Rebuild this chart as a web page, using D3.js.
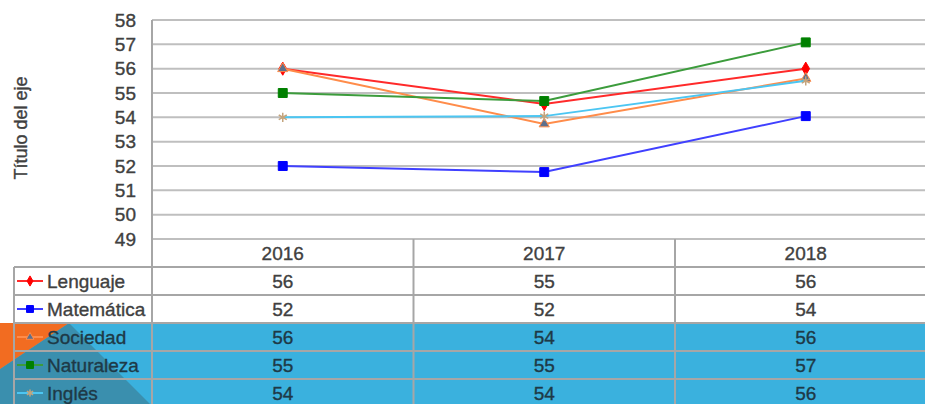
<!DOCTYPE html>
<html>
<head>
<meta charset="utf-8">
<script src="https://cdn.jsdelivr.net/npm/d3@7"></script>
<style>
  html, body { margin: 0; padding: 0; background: #fff; }
  svg { display: block; }
  text { font-family: "Liberation Sans", Arial, sans-serif; stroke-width: 0.35px; paint-order: stroke; }
</style>
</head>
<body>
<svg id="chart" width="925" height="404"></svg>
<script>
// ---- data ----
const years = ["2016", "2017", "2018"];
const seriesNames = ["Lenguaje", "Matemática", "Sociedad", "Naturaleza", "Inglés"];
const lenguaje   = [56.0, 54.55, 56.0];
const matematica = [52.0, 51.75, 54.05];
const sociedad   = [56.0, 53.73, 55.6];
const naturaleza = [55.0, 54.67, 57.08];
const ingles     = [54.0, 54.05, 55.5];
const yTicks = [49, 50, 51, 52, 53, 54, 55, 56, 57, 58];
const axisTitle = "Título del eje";

const seriesValues = [lenguaje, matematica, sociedad, naturaleza, ingles];

// ---- styles ----
const styles = [
  { line: "#ff2a2a", fill: "#ff0000", stroke: "#ff0000", sym: d3.symbolDiamond, size: 50 },
  { line: "#4040ff", fill: "#0000ff", stroke: "#0000ff", sym: d3.symbolSquare, size: 80 },
  { line: "#ff8c4a", fill: "#5d6f8c", stroke: "#ff8c4a", sym: d3.symbolTriangle, size: 45 },
  { line: "#3c9c3c", fill: "#008000", stroke: "#008000", sym: d3.symbolSquare, size: 80 },
  { line: "#4cc6f2", fill: "none", stroke: "#c4a47c", sym: (d3.symbolAsterisk || d3.symbolTimes), size: 60 }
];

const svg = d3.select("#chart");
const W = 925, H = 404;
const plotLeft = 152, plotTop = 20, plotBottom = 239;
const bandW = 261.5;
const rowH = 28;
const tableLeft = 14;

const x = d3.scaleBand().domain(years).range([plotLeft, plotLeft + bandW * years.length]);
const y = d3.scaleLinear().domain([49, 58]).range([plotBottom, plotTop]);

// ---- decorative background (slide) ----
const blueTop = plotBottom + rowH * 3;
svg.append("rect").attr("x", 0).attr("y", blueTop).attr("width", W).attr("height", H - blueTop).attr("fill", "#3ab1de");
svg.append("polygon").attr("points", `0,${blueTop + 46} 69,${blueTop} 150,${H} 0,${H}`).attr("fill", "#3a8fae");
svg.append("polygon").attr("points", `0,${blueTop} 69,${blueTop} 0,${blueTop + 46}`).attr("fill", "#f26c21");

// ---- gridlines ----
const gridColor = "#bfbfbf";
svg.append("g").selectAll("line").data(yTicks).join("line")
  .attr("x1", plotLeft).attr("x2", W)
  .attr("y1", d => y(d)).attr("y2", d => y(d))
  .attr("stroke", gridColor).attr("stroke-width", 2);

// ---- y axis ----
const yAxis = d3.axisLeft(y).tickValues(yTicks).tickFormat(d3.format("d")).tickSize(0).tickPadding(16);
const gy = svg.append("g").attr("transform", `translate(${plotLeft},0)`).call(yAxis);
gy.select(".domain").remove();
gy.selectAll("text").attr("font-size", 19).attr("fill", "#404040").attr("stroke", "#404040")
  .attr("font-family", "Liberation Sans, Arial, sans-serif");

// axis title
svg.append("text")
  .attr("transform", `translate(27,128) rotate(-90)`)
  .attr("text-anchor", "middle")
  .attr("font-size", 18).attr("fill", "#404040").attr("stroke", "#404040")
  .text(axisTitle);

// ---- data table ----
const tableColor = "#a6a6a6";
const tg = svg.append("g");
// header text
tg.selectAll("text.hdr").data(years).join("text").attr("class", "hdr")
  .attr("x", d => x(d) + x.bandwidth() / 2)
  .attr("y", plotBottom + rowH / 2).attr("dy", "0.36em")
  .attr("text-anchor", "middle").attr("font-size", 19).attr("fill", "#404040").attr("stroke", "#404040")
  .text(d => d);

// horizontal row lines
const rowLines = d3.range(seriesNames.length + 1).map(i => plotBottom + rowH * (i + 1));
tg.selectAll("line.row").data(rowLines).join("line").attr("class", "row")
  .attr("x1", tableLeft).attr("x2", W)
  .attr("y1", d => d).attr("y2", d => d)
  .attr("stroke", tableColor).attr("stroke-width", 2);
// vertical lines
tg.append("line").attr("x1", tableLeft).attr("x2", tableLeft)
  .attr("y1", plotBottom + rowH).attr("y2", H).attr("stroke", tableColor).attr("stroke-width", 2);
tg.selectAll("line.col").data(years.slice(1)).join("line").attr("class", "col")
  .attr("x1", d => x(d)).attr("x2", d => x(d))
  .attr("y1", plotBottom).attr("y2", H)
  .attr("stroke", tableColor).attr("stroke-width", 2);
// plot left edge
svg.append("line").attr("x1", plotLeft).attr("x2", plotLeft)
  .attr("y1", plotTop).attr("y2", H).attr("stroke", tableColor).attr("stroke-width", 2);

// table rows
seriesNames.forEach((name, i) => {
  const cy = plotBottom + rowH * (i + 1) + rowH / 2;
  const st = styles[i];
  const onBlue = (plotBottom + rowH * (i + 1)) >= blueTop;
  const txtColor = onBlue ? "#1e3946" : "#404040";
  // legend line + marker
  tg.append("line").attr("x1", 17).attr("x2", 43).attr("y1", cy).attr("y2", cy)
    .attr("stroke", st.line).attr("stroke-width", 2);
  tg.append("path").attr("d", d3.symbol().type(st.sym).size(st.size * 0.6)())
    .attr("transform", `translate(30,${cy})`)
    .attr("fill", st.fill).attr("stroke", st.stroke).attr("stroke-width", st.fill === "none" ? 1.5 : 1);
  tg.append("text").attr("x", 47).attr("y", cy).attr("dy", "0.36em")
    .attr("font-size", 19).attr("fill", txtColor).attr("stroke", txtColor).text(name);
  tg.selectAll(null).data(seriesValues[i]).join("text")
    .attr("x", (d, j) => x(years[j]) + x.bandwidth() / 2)
    .attr("y", cy).attr("dy", "0.36em")
    .attr("text-anchor", "middle").attr("font-size", 19).attr("fill", txtColor).attr("stroke", txtColor)
    .text(d => d3.format(".0f")(d));
});

// ---- lines & markers ----
const line = d3.line().x((d, j) => x(years[j]) + x.bandwidth() / 2).y(d => y(d));
seriesValues.forEach((vals, i) => {
  const st = styles[i];
  const g = svg.append("g");
  g.append("path").attr("d", line(vals)).attr("fill", "none")
    .attr("stroke", st.line).attr("stroke-width", 2);
  g.selectAll("path.m").data(vals).join("path").attr("class", "m")
    .attr("d", d3.symbol().type(st.sym).size(st.size)())
    .attr("transform", (d, j) => `translate(${x(years[j]) + x.bandwidth() / 2},${y(d)})`)
    .attr("fill", st.fill).attr("stroke", st.stroke).attr("stroke-width", st.fill === "none" ? 1.5 : 1);
});
</script>
</body>
</html>
